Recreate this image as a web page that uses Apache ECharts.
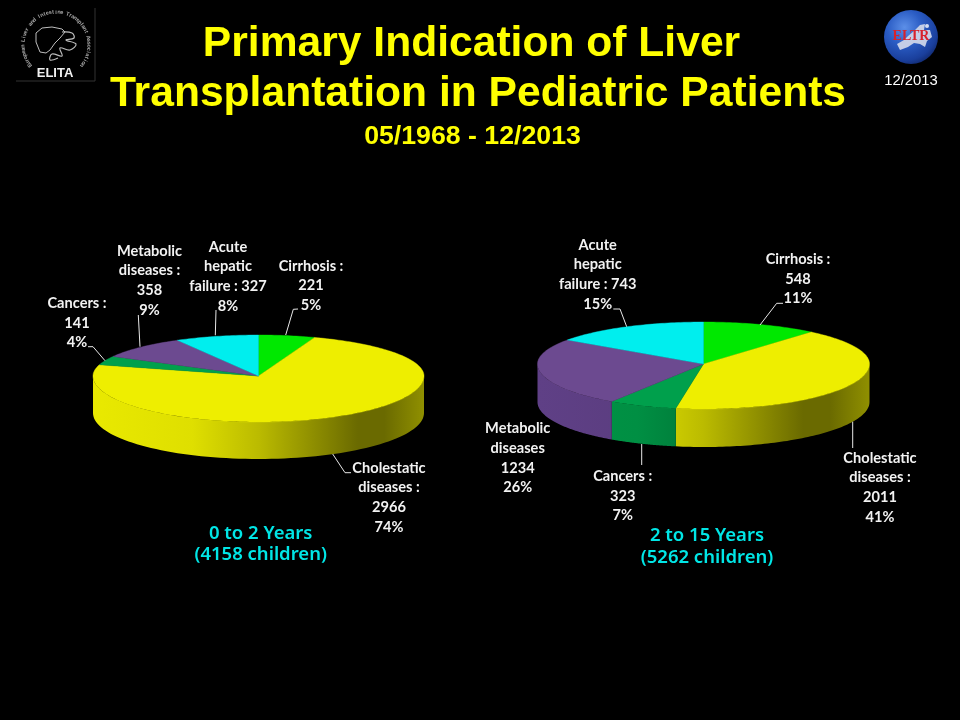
<!DOCTYPE html>
<html>
<head>
<meta charset="utf-8">
<style>html,body{margin:0;padding:0;background:#000}#c{width:960px;height:720px}</style>
<script src="https://cdn.jsdelivr.net/npm/echarts@6/dist/echarts.min.js"></script>
</head>
<body>
<div id="c"></div>
<script>
// ---- data ----
var categories = ['Cirrhosis', 'Cholestatic diseases', 'Cancers', 'Metabolic diseases', 'Acute hepatic failure'];
var youngValues = [221, 2966, 141, 358, 327];
var olderValues = [548, 2011, 323, 1234, 743];
var youngLabels = ['Cirrhosis :\n221\n5%', 'Cholestatic\ndiseases :\n2966\n74%', 'Cancers :\n141\n4%', 'Metabolic\ndiseases :\n358\n9%', 'Acute\nhepatic\nfailure : 327\n8%'];
var olderLabels = ['Cirrhosis :\n548\n11%', 'Cholestatic\ndiseases :\n2011\n41%', 'Cancers :\n323\n7%', 'Metabolic\ndiseases\n1234\n26%', 'Acute\nhepatic\nfailure : 743\n15%'];
var youngCaption = '0 to 2 Years\n(4158 children)';
var olderCaption = '2 to 15 Years\n(5262 children)';
var titleLines = ['Primary Indication of Liver', 'Transplantation in Pediatric Patients', '05/1968 - 12/2013'];
var stampText = '12/2013';

// ---- style and layout ----
var sliceColors = ['#00e800', '#eeee00', '#00a04c', '#6c4a90', '#00eeee'];
var wallColors = ['#00e000', '#f0f000', '#009a48', '#62428a', '#00e0e0'];
var wallShade = [[0, 0.97], [0.3, 0.93], [0.5, 0.78], [0.8, 0.44], [0.88, 0.44], [1, 0.6]];
var pieLayouts = [
  {cx: 258.5, cy: 376, rx: 165.5, back: 41, front: 46, depth: 37},
  {cx: 703.5, cy: 364, rx: 166, back: 42, front: 45, depth: 38}
];
var youngLabelPos = [[311, 285], [389, 497], [77, 322.5], [149.5, 280], [228, 276]];
var olderLabelPos = [[798, 278.5], [880, 487], [622.7, 495.5], [517.7, 457.5], [597.7, 274]];
var leaderLines = [
  [[285.7,335],[293.3,309.3],[298,309]],
  [[332.7,454],[345,472.7],[351,472.7]],
  [[105,360.7],[93,346.7],[88,346.7]],
  [[140,346.7],[138.3,315]],
  [[215.3,335.3],[216,310]],
  [[760,325],[776.7,303.3],[783,303.3]],
  [[852.7,421.7],[852.7,448]],
  [[641.7,444],[641.7,465]],
  [[626.7,326.7],[620,309],[613.3,309]]
];

function shade(hex, f) {
  var n = parseInt(hex.slice(1), 16);
  var r = Math.round((n >> 16 & 255) * f), g = Math.round((n >> 8 & 255) * f), b = Math.round((n & 255) * f);
  return 'rgb(' + r + ',' + g + ',' + b + ')';
}
function topPt(L, t) {
  var c = Math.cos(t);
  return [L.cx + L.rx * Math.sin(t), L.cy - (c > 0 ? L.back : L.front) * c];
}
function pieSeries(values, L) {
  var total = values.reduce(function (a, b) { return a + b; }, 0);
  var data = [], acc = 0;
  values.forEach(function (v, i) {
    data.push({name: categories[i], value: [v, acc, acc + v, i]});
    acc += v;
  });
  return {
    type: 'custom',
    coordinateSystem: 'none',
    silent: true,
    animation: false,
    data: data,
    renderItem: function (params, api) {
      var a0 = api.value(1) / total * Math.PI * 2, a1 = api.value(2) / total * Math.PI * 2;
      var idx = api.value(3);
      var steps = Math.max(6, Math.ceil((a1 - a0) / 0.02));
      var pts = [[L.cx, L.cy]], k, t;
      for (k = 0; k <= steps; k++) pts.push(topPt(L, a0 + (a1 - a0) * k / steps));
      var children = [];
      // front wall: the part of the slice lying between a quarter and three quarters of the turn
      var w0 = Math.max(a0, Math.PI / 2), w1 = Math.min(a1, Math.PI * 1.5);
      if (w1 > w0) {
        var upper = [], lower = [];
        for (k = 0; k <= 80; k++) {
          t = w0 + (w1 - w0) * k / 80;
          var p = topPt(L, t);
          upper.push(p);
          lower.unshift([p[0], p[1] + L.depth]);
        }
        children.push({
          type: 'polygon',
          shape: {points: upper.concat(lower)},
          style: {
            fill: {
              type: 'linear', global: true,
              x: L.cx - L.rx, y: 0, x2: L.cx + L.rx, y2: 0,
              colorStops: wallShade.map(function (s) { return {offset: s[0], color: shade(wallColors[idx], s[1])}; })
            }
          }
        });
      }
      children.push({
        type: 'polygon',
        shape: {points: pts},
        style: {fill: sliceColors[idx], stroke: sliceColors[idx], lineWidth: 0.4}
      });
      return {type: 'group', children: children};
    }
  };
}

// ---- text and decoration ----
var g = [];
function text(x, y, s, font, weight, size, color, extra) {
  var st = {text: s, x: 0, y: 0, fill: color, align: 'center', verticalAlign: 'middle',
    fontFamily: font, fontWeight: weight, fontSize: size};
  if (extra) for (var k in extra) st[k] = extra[k];
  g.push({type: 'text', x: x, y: y, z: 20, silent: true, style: st});
}
var SANS = '"Liberation Sans"', LBL = 'Lato', CAP = '"Noto Sans"';
text(471.5, 44.5, titleLines[0], SANS, 'bold', 42.6, '#ffff00');
text(478, 94.5, titleLines[1], SANS, 'bold', 42.6, '#ffff00');
text(472.5, 136.5, titleLines[2], SANS, 'bold', 26.7, '#ffff00');
text(911, 80.5, stampText, SANS, 'normal', 14.8, '#ffffff');
youngLabels.forEach(function (s, i) {
  text(youngLabelPos[i][0], youngLabelPos[i][1] + 0.5, s, LBL, 'bold', 14.6, '#f2f2f2', {lineHeight: 19.7});
});
olderLabels.forEach(function (s, i) {
  text(olderLabelPos[i][0], olderLabelPos[i][1] + 0.5, s, LBL, 'bold', 14.6, '#f2f2f2', {lineHeight: 19.7});
});
text(260.7, 544, youngCaption, CAP, 600, 18.5, '#00e6e6', {lineHeight: 21.5});
text(707, 546.5, olderCaption, CAP, 600, 18.5, '#00e6e6', {lineHeight: 21.5});
leaderLines.forEach(function (pts) {
  g.push({type: 'polyline', z: 15, silent: true, shape: {points: pts}, style: {stroke: '#e8e8e8', lineWidth: 1, fill: null}});
});

// ELITA emblem
g.push({type: 'polyline', silent: true, shape: {points: [[16,81],[95,81],[95,8]]}, style: {stroke: '#333', lineWidth: 1, fill: null}});
var ring = 'European Liver and Intestine Transplant Association';
for (var i = 0; i < ring.length; i++) {
  var ang = (-128 + 256 * i / (ring.length - 1)) * Math.PI / 180;
  g.push({type: 'text', silent: true, x: 56 + 33 * Math.sin(ang), y: 45 - 33 * Math.cos(ang), rotation: -ang,
    style: {text: ring[i], x: 0, y: 0, align: 'center', verticalAlign: 'middle', fontFamily: SANS, fontSize: 5.5, fontWeight: 'bold', fill: '#a8a8a8'}});
}
g.push({type: 'polyline', silent: true, shape: {points: [[40,52],[36,42],[36,33],[42,28],[52,27],[62,29],[65,32],[60,38],[55,43],[50,50],[46,53],[40,52]]}, style: {stroke: '#bdbdbd', lineWidth: 1, fill: null}});
g.push({type: 'polyline', silent: true, shape: {points: [[62,32],[72,33],[74,38],[66,40],[76,44],[70,50],[60,48],[62,56],[52,54],[50,60],[58,58]], smooth: 0.4}, style: {stroke: '#bdbdbd', lineWidth: 1.2, fill: null}});
text(55, 73.5, 'ELITA', SANS, 'bold', 13, '#f0f0f0');

// ELTR globe
g.push({type: 'circle', silent: true, shape: {cx: 911, cy: 37, r: 27}, style: {
  fill: {type: 'radial', x: 0.38, y: 0.32, r: 0.72, colorStops: [
    {offset: 0, color: '#5c8fe8'}, {offset: 0.45, color: '#2a5cc4'}, {offset: 0.85, color: '#1a3f9c'}, {offset: 1, color: '#122c74'}]}
}});
g.push({type: 'polygon', silent: true, shape: {points: [[900,50],[897,44],[904,40],[908,36],[914,31],[920,25],[925,24],[924,30],[930,30],[932,37],[927,41],[925,47],[920,44],[914,43],[908,47]]}, style: {fill: '#c4cee6'}});
g.push({type: 'circle', silent: true, shape: {cx: 927, cy: 26, r: 2}, style: {fill: '#ffffff', opacity: 0.8}});
text(911, 36.5, 'ELTR', '"Liberation Serif"', 'bold', 14, '#d8222c');

var chart = echarts.init(document.getElementById('c'), null, {renderer: 'canvas'});
chart.setOption({
  backgroundColor: '#000000',
  animation: false,
  series: [pieSeries(youngValues, pieLayouts[0]), pieSeries(olderValues, pieLayouts[1])],
  graphic: {elements: g}
});
</script>
</body>
</html>
